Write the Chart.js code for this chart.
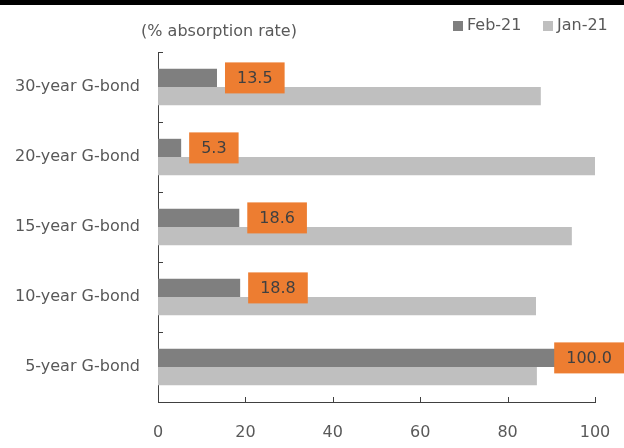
<!DOCTYPE html>
<html>
<head>
<meta charset="utf-8">
<script src="https://cdn.jsdelivr.net/npm/chart.js@4/dist/chart.umd.min.js"></script>
<style>
  html, body { margin: 0; padding: 0; background: #fff; }
  #wrap { width: 624px; height: 448px; }
</style>
</head>
<body>
<div id="wrap"><canvas id="absorptionChart" width="624" height="448"></canvas></div>
<script>
const bonds = ["30-year G-bond", "20-year G-bond", "15-year G-bond", "10-year G-bond", "5-year G-bond"];
const feb21 = [13.5, 5.3, 18.6, 18.8, 100.0];
const jan21 = [87.6, 100.0, 94.7, 86.5, 86.7];
const xTicks = [0, 20, 40, 60, 80, 100];

const FONT = "'DejaVu Sans', sans-serif";
const SIZE = 16;
const TEXT = "#595959";
const AXIS = "#404040";

// black rule, title and legend drawn around the plot
const frame = {
    id: "frame",
    afterDraw(chart) {
        const c = chart.ctx;
        c.save();
        c.fillStyle = "#000";
        c.fillRect(0, 0, chart.width, 5);

        c.font = SIZE + "px " + FONT;
        c.fillStyle = TEXT;
        c.textBaseline = "middle";
        c.textAlign = "center";
        c.fillText("(% absorption rate)", 219, 32);

        c.textAlign = "left";
        const items = [["Feb-21", "#7F7F7F", 453], ["Jan-21", "#BFBFBF", 543]];
        items.forEach(([name, col, x]) => {
            c.fillStyle = col;
            c.fillRect(x, 21, 10, 10);
            c.fillStyle = TEXT;
            c.fillText(name, x + 14, 26);
        });
        c.restore();
    }
};

// inward tick marks on both axes
const innerTicks = {
    id: "innerTicks",
    afterDatasetsDraw(chart) {
        const c = chart.ctx;
        const xs = chart.scales.x;
        const area = chart.chartArea;
        c.save();
        c.strokeStyle = AXIS;
        c.lineWidth = 1;
        c.beginPath();
        xTicks.forEach(v => {
            const px = Math.round(xs.getPixelForValue(v)) + 0.5;
            c.moveTo(px, area.bottom);
            c.lineTo(px, area.bottom - 5);
        });
        const band = (area.bottom - area.top) / bonds.length;
        for (let i = 0; i <= bonds.length; i++) {
            const py = Math.round(area.top + i * band) + 0.5;
            c.moveTo(area.left, py);
            c.lineTo(area.left + 5, py);
        }
        c.stroke();
        c.restore();
    }
};

// orange value boxes next to the Feb-21 bars
const valueBoxes = {
    id: "valueBoxes",
    afterDatasetsDraw(chart) {
        const c = chart.ctx;
        const meta = chart.getDatasetMeta(0);
        c.save();
        c.font = SIZE + "px " + FONT;
        c.textBaseline = "middle";
        c.textAlign = "center";
        meta.data.forEach((bar, i) => {
            const txt = feb21[i].toFixed(1);
            const w = c.measureText(txt).width + 24;
            const h = 31;
            let left = bar.x + 8;
            if (left + w > chart.width) left = chart.width - w;
            c.fillStyle = "#ED7D31";
            c.fillRect(left, bar.y - h / 2, w, h);
            c.fillStyle = AXIS;
            c.fillText(txt, left + w / 2, bar.y + 1);
        });
        c.restore();
    }
};

new Chart(document.getElementById("absorptionChart"), {
    type: "bar",
    data: {
        labels: bonds,
        datasets: [
            { label: "Feb-21", data: feb21, backgroundColor: "#7F7F7F" },
            { label: "Jan-21", data: jan21, backgroundColor: "#BFBFBF" }
        ]
    },
    options: {
        indexAxis: "y",
        responsive: false,
        animation: false,
        devicePixelRatio: 1,
        datasets: { bar: { categoryPercentage: 0.52, barPercentage: 1.0 } },
        layout: { padding: { top: 52, right: 29, left: 0, bottom: 0 } },
        plugins: { legend: { display: false }, tooltip: { enabled: false } },
        scales: {
            x: {
                min: 0,
                max: 100,
                afterBuildTicks: s => { s.ticks = xTicks.map(v => ({ value: v })); },
                afterFit: s => { s.height = 46; s.paddingLeft = 0; s.paddingRight = 0; },
                grid: { display: false, drawTicks: false },
                border: { display: true, color: AXIS, width: 1 },
                ticks: { color: TEXT, font: { family: FONT, size: SIZE }, padding: 21 }
            },
            y: {
                afterFit: s => { s.width = 158; s.paddingTop = 0; s.paddingBottom = 0; },
                grid: { display: false, drawTicks: false },
                border: { display: true, color: AXIS, width: 1 },
                ticks: { color: TEXT, font: { family: FONT, size: SIZE }, padding: 18 }
            }
        }
    },
    plugins: [frame, innerTicks, valueBoxes]
});
</script>
</body>
</html>
